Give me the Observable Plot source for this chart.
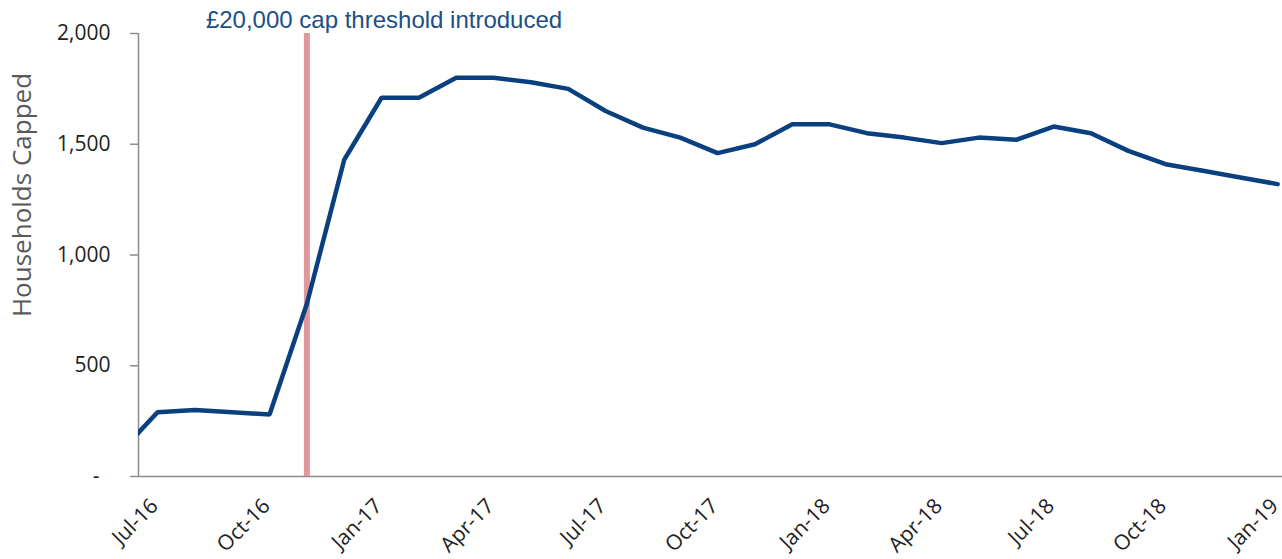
<!DOCTYPE html>
<html>
<head>
<meta charset="utf-8">
<script src="https://cdn.jsdelivr.net/npm/d3@7"></script>
<script src="https://cdn.jsdelivr.net/npm/@observablehq/plot@0.6"></script>
<style>
  html, body { margin: 0; padding: 0; background: #fff; }
  #chart svg { display: block; }
</style>
</head>
<body>
<div id="chart"></div>
<script>
// Monthly households capped (Jun-16 point lies just left of the axis and is clipped)
const months = ["Jun-16","Jul-16","Aug-16","Sep-16","Oct-16","Nov-16","Dec-16","Jan-17","Feb-17","Mar-17","Apr-17","May-17","Jun-17","Jul-17","Aug-17","Sep-17","Oct-17","Nov-17","Dec-17","Jan-18","Feb-18","Mar-18","Apr-18","May-18","Jun-18","Jul-18","Aug-18","Sep-18","Oct-18","Nov-18","Dec-18","Jan-19"];
const households = [110,290,300,290,280,780,1430,1710,1710,1800,1800,1780,1750,1650,1575,1530,1460,1500,1590,1590,1550,1530,1505,1530,1520,1580,1550,1470,1410,1380,1350,1320];
const tickMonths = ["Jul-16","Oct-16","Jan-17","Apr-17","Jul-17","Oct-17","Jan-18","Apr-18","Jul-18","Oct-18","Jan-19"];
const yTicks = [0, 500, 1000, 1500, 2000];
const capMonth = "Nov-16";
const capLabel = "£20,000 cap threshold introduced";
const yLabel = "Households Capped";

const data = months.map((m, i) => ({i, month: m, value: households[i]}));
const tickIdx = tickMonths.map(m => months.indexOf(m));
const capIdx = months.indexOf(capMonth);
const xDomain = [0.49, months.length - 1 + 0.13];
const yDomain = [0, 2000];

const axisGray = "#8c8c8c";
const fmt = d3.format(",");

const chart = Plot.plot({
  width: 1282,
  height: 559,
  marginLeft: 138,
  marginRight: 0,
  marginTop: 33,
  marginBottom: 83,
  x: {type: "linear", domain: xDomain, axis: null},
  y: {domain: yDomain, axis: null},
  style: {fontFamily: "'Open Sans', sans-serif", background: "#fff", overflow: "visible"},
  marks: [
    Plot.axisY({
      ticks: yTicks,
      tickFormat: d => d === 0 ? "-\u00a0\u00a0" : fmt(d),
      tickSize: 8,
      tickPadding: 20,
      stroke: axisGray,
      strokeWidth: 1.5,
      fill: "#222",
      fontSize: 21,
      label: null
    }),
    Plot.axisX({
      ticks: tickIdx,
      tickFormat: i => months[i],
      tickSize: 0,
      tickPadding: 26,
      tickRotate: -45,
      dx: -3,
      fill: "#222",
      fontSize: 21,
      label: null
    }),
    Plot.ruleY([0], {stroke: axisGray, strokeWidth: 1.5}),
    Plot.ruleX([xDomain[0]], {y1: yDomain[0], y2: yDomain[1], stroke: axisGray, strokeWidth: 1.5}),
    Plot.ruleX([capIdx], {y1: yDomain[0], y2: yDomain[1], stroke: "#E0989A", strokeWidth: 6}),
    Plot.line(data, {x: "i", y: "value", stroke: "#0a4080", strokeWidth: 4.5, clip: true, strokeLinejoin: "miter"}),
    Plot.text([capLabel], {
      x: capIdx, y: yDomain[1], text: d => d,
      textAnchor: "start", lineAnchor: "bottom",
      dx: -101, dy: -6,
      fill: "#1c4f86", fontSize: 24,
      fontFamily: "'Liberation Sans', Arial, sans-serif"
    }),
    Plot.text([yLabel], {
      frameAnchor: "left", text: d => d,
      textAnchor: "middle", lineAnchor: "middle",
      rotate: -90, dx: -116, dy: -60,
      fill: "#595959", fontSize: 26
    })
  ]
});
document.getElementById("chart").appendChild(chart);
</script>
</body>
</html>
